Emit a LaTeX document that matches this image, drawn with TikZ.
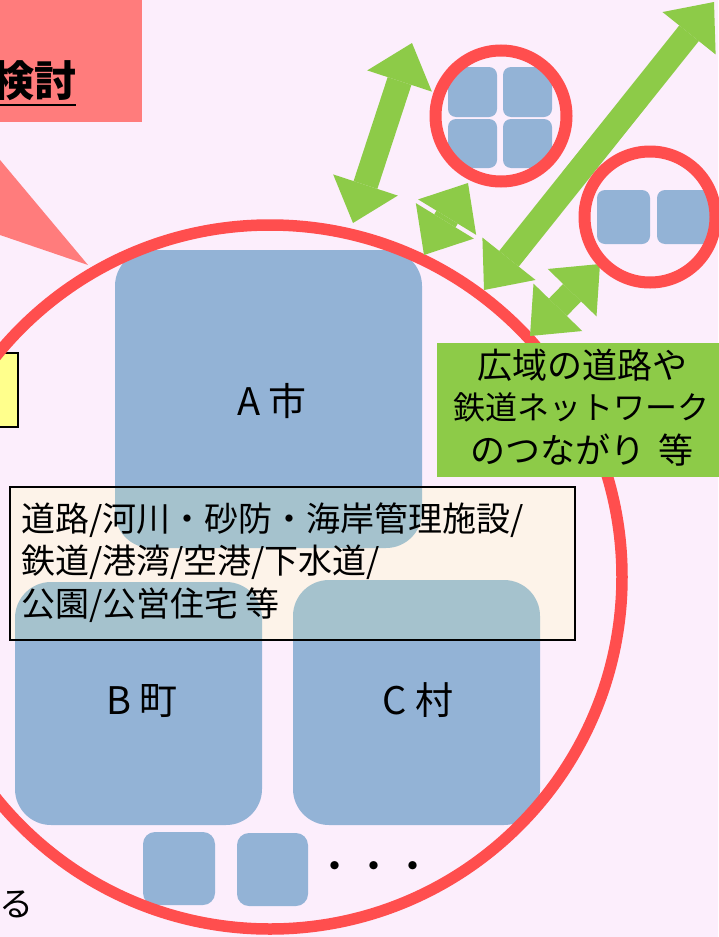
\documentclass[tikz,border=0pt]{standalone}
\usepackage{fontspec}
\setmainfont{Noto Sans CJK JP}
\usetikzlibrary{arrows.meta}
\definecolor{bgpink}{RGB}{252,238,252}
\definecolor{salmon}{RGB}{255,124,124}
\definecolor{ringred}{RGB}{255,78,78}
\definecolor{cityblue}{RGB}{147,179,214}
\definecolor{tint}{RGB}{165,194,205}
\definecolor{cream}{RGB}{253,243,233}
\definecolor{agreen}{RGB}{141,203,72}
\definecolor{yellowbox}{RGB}{255,255,140}
\tikzset{
  bluebox/.style={fill=cityblue, rounded corners=36pt},
  smallbox/.style={fill=cityblue, rounded corners=12pt},
  tinybox/.style={fill=cityblue, rounded corners=8pt},
  ring/.style={circle, draw=ringred, line width=12pt},
  garrow/.style={draw=agreen, line width=25pt,
    {Triangle[length=40pt,width=68pt,line width=0pt]}-{Triangle[length=40pt,width=68pt,line width=0pt]}},
  citylabel/.style={font=\fontsize{38pt}{44pt}\selectfont},
  listtext/.style={font=\fontsize{34pt}{40pt}\selectfont, anchor=west},
  greentext/.style={font=\fontsize{35pt}{40pt}\selectfont},
}
\begin{document}
\begin{tikzpicture}[x=1pt,y=-1pt, every node/.style={inner sep=0pt, outer sep=0pt}]
\useasboundingbox (0,0) rectangle (718,937);
\fill[bgpink] (0,0) rectangle (718,937);

% top-left red box with heading
\node[fill=salmon, minimum width=170pt, minimum height=122pt, anchor=south east] (R) at (142,122) {};
\node[font=\fontsize{42pt}{46pt}\selectfont\bfseries, anchor=east] (kt) at (77,81) {検討};
\draw[line width=2.6pt] (-5,105) -- (76,105);
% callout tail
\fill[salmon] (-10,148) -- (88,265) -- (-10,231.6) -- cycle;
% yellow box at left
\node[draw=black, line width=2.5pt, fill=yellowbox, minimum width=40pt, minimum height=74pt, anchor=east] (Y) at (18,390) {};

% municipalities
\node[bluebox, minimum width=307pt, minimum height=298pt] (A) at (268.5,399) {};
\node[bluebox, minimum width=247pt, minimum height=243pt] (B) at (138.5,703.5) {};
\node[bluebox, minimum width=247pt, minimum height=245pt] (C) at (416.5,702.5) {};
\node[smallbox, minimum width=72pt, minimum height=73pt, anchor=north west] (s1) at (143,832) {};
\node[smallbox, minimum width=71pt, minimum height=73pt, anchor=north west] (s2) at (237,833) {};
\node[font=\fontsize{39pt}{40pt}\selectfont] (dots) at (374,871) {・・・};

% big ring
\node[ring, line width=11.5pt, minimum size=704pt] (bigring) at (270,577) {};

% facility list box
\node[fill=cream, minimum width=565pt, minimum height=153pt, anchor=north west] (T) at (10,487) {};
\begin{scope}
  \clip (T.south west) rectangle (T.north east);
  \fill[tint, rounded corners=36pt] (A.south west) rectangle (A.north east);
  \fill[tint, rounded corners=36pt] (B.south west) rectangle (B.north east);
  \fill[tint, rounded corners=36pt] (C.south west) rectangle (C.north east);
\end{scope}
\draw[line width=2.5pt] (T.south west) rectangle (T.north east);
\node[listtext] (l1) at (21,520) {道路/河川・砂防・海岸管理施設/};
\node[listtext] (l2) at (21,562) {鉄道/港湾/空港/下水道/};
\node[listtext] (l3) at (21,605) {公園/公営住宅 等};

% labels
\node[citylabel] (Alab) at (272,401) {A 市};
\node[citylabel] (Blab) at (142,701) {B 町};
\node[citylabel] (Clab) at (418,700) {C 村};

% green network box
\node[fill=agreen, minimum width=300pt, minimum height=134pt, anchor=north west] (G) at (437,343) {};
\node[greentext] (g1) at (582,365) {広域の道路や};
\node[greentext, font=\fontsize{32pt}{40pt}\selectfont] (g2) at (581,407) {鉄道ネットワーク};
\node[greentext] (g3) at (582,450) {のつながり\hspace{0.35em}等};

% arrows
\coordinate (a1s) at (353,223); \coordinate (a1e) at (412,43);
\coordinate (a2s) at (424,255); \coordinate (a2e) at (468,183);
\coordinate (a3s) at (484,290); \coordinate (a3e) at (714,2);
\coordinate (a4s) at (530,336); \coordinate (a4e) at (600,264);
\draw[garrow] (a1s) -- (a1e);
\draw[garrow] (a2s) -- (a2e);
\draw[garrow] (a3s) -- (a3e);
\draw[garrow] (a4s) -- (a4e);

% neighbouring small municipalities
\node[tinybox, minimum width=49pt, minimum height=50pt, anchor=north west] (q1) at (448,67) {};
\node[tinybox, minimum width=49pt, minimum height=50pt, anchor=north west] (q2) at (503,67) {};
\node[tinybox, minimum width=49pt, minimum height=49pt, anchor=north west] (q3) at (448,119) {};
\node[tinybox, minimum width=49pt, minimum height=49pt, anchor=north west] (q4) at (503,119) {};
\node[ring, minimum size=131pt] (r1) at (501,116) {};
\node[tinybox, minimum width=53pt, minimum height=54pt, anchor=north west] (p1) at (597,190) {};
\node[tinybox, minimum width=54pt, minimum height=54pt, anchor=north west] (p2) at (657,190) {};
\node[ring, minimum size=131pt] (r2) at (650,217) {};

% text at bottom left
\node[font=\fontsize{34pt}{40pt}\selectfont, anchor=east] (ru) at (33,904) {る};
\end{tikzpicture}
\end{document}
